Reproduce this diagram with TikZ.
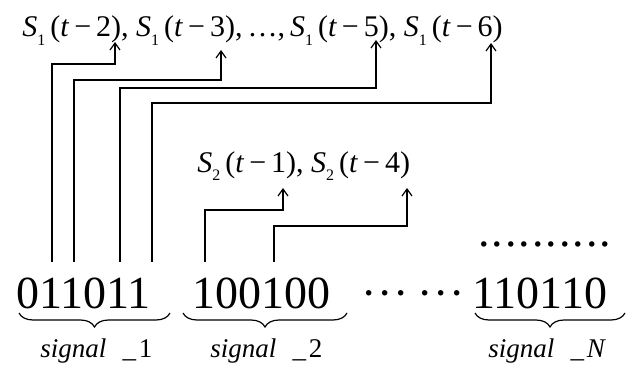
\documentclass[tikz,border=0pt]{standalone}
\usepackage{fontspec}
\setmainfont{Liberation Serif}
\usetikzlibrary{arrows.meta,decorations.pathreplacing}
\newcommand{\sterm}[2]{\textit{S}\raisebox{-0.3em}{\fontsize{8}{8}\selectfont #1}\,(\textit{t}\,−\,#2)}

\begin{document}
\begin{tikzpicture}[x=0.5pt,y=-0.5pt,
  bits/.style={inner sep=0pt,font=\fontsize{23}{23}\selectfont},
  terms/.style={inner sep=0pt,font=\fontsize{15}{15}\selectfont},
  tag/.style={inner sep=0pt,font=\fontsize{13.5}{13.5}\selectfont},
  sig/.style={line width=0.6pt,-{Straight Barb[length=3.5pt,width=5pt]}},
  grp/.style={line width=0.6pt,decorate,decoration={brace,mirror,amplitude=7pt}}]
  \useasboundingbox (0,0) rectangle (632,369);

  % delayed samples
  \node[terms,anchor=base west] (top) at (22,37) {\sterm{1}{2}, \sterm{1}{3},\,\ldots,\,\sterm{1}{5}, \sterm{1}{6}};
  \node[terms,anchor=base west] (mid) at (197,172) {\sterm{2}{1}, \sterm{2}{4}};

  % bit strings
  \node[bits,anchor=base west] (g1) at (16,308) {011011};
  \node[bits,anchor=base west] (g2) at (192,308) {100100};
  \node[bits,anchor=base west] (gap) at (361,308) {·\kern0.4pt·\kern0.4pt·\kern4.4pt·\kern0.4pt·\kern0.4pt·};
  \node[bits,anchor=base west] (gN) at (472,308) {110110};
  \node[bits,anchor=base west] (more) at (478,246) {.\kern1pt.\kern1pt.\kern1pt.\kern1pt.\kern1pt.\kern1pt.\kern1pt.\kern1pt.\kern1pt.};

  % taps of signal 1
  \coordinate (b1) at (52,262);  \coordinate (k1) at (115,64);  \coordinate (a1) at (115,42);
  \coordinate (b2) at (74,262);  \coordinate (k2) at (221,80);  \coordinate (a2) at (221,50);
  \coordinate (b3) at (120,262); \coordinate (k3) at (376,88);  \coordinate (a3) at (376,40);
  \coordinate (b4) at (152,262); \coordinate (k4) at (491,103); \coordinate (a4) at (491,43);
  \draw[sig] (b1) |- (k1) -- (a1);
  \draw[sig] (b2) |- (k2) -- (a2);
  \draw[sig] (b3) |- (k3) -- (a3);
  \draw[sig] (b4) |- (k4) -- (a4);

  % taps of signal 2
  \coordinate (c1) at (205,262); \coordinate (m1) at (283,210); \coordinate (d1) at (283,188);
  \coordinate (c2) at (274,262); \coordinate (m2) at (407,226); \coordinate (d2) at (407,188);
  \draw[sig] (c1) |- (m1) -- (d1);
  \draw[sig] (c2) |- (m2) -- (d2);

  % braces and names
  \draw[grp] (19,313) -- (170,313);
  \draw[grp] (183,313) -- (347,313);
  \draw[grp] (475,313) -- (625,313);
  \node[tag,anchor=base west] (n1) at (40,357) {\textit{signal}\hspace{0.6em}\_\hspace{0.1em}1};
  \node[tag,anchor=base west] (n2) at (210,357) {\textit{signal}\hspace{0.6em}\_\hspace{0.1em}2};
  \node[tag,anchor=base west] (nN) at (488,357) {\textit{signal}\hspace{0.6em}\_\hspace{0.1em}\textit{N}};
\end{tikzpicture}
\end{document}
